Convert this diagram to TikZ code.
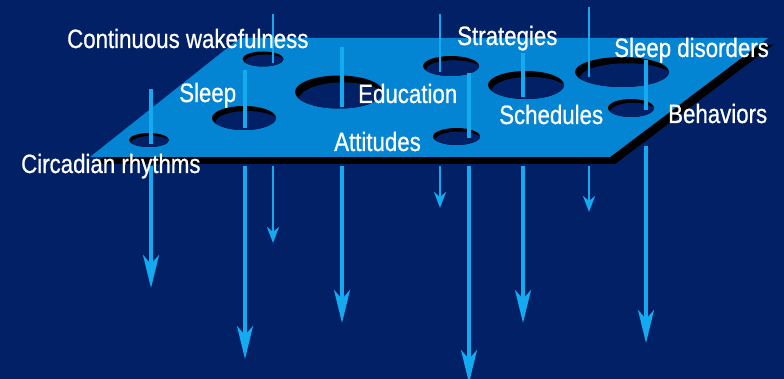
\documentclass[tikz,border=0pt]{standalone}
\usepackage{fontspec}
\setmainfont{Liberation Sans}[FakeStretch=0.84,FakeBold=0.7]
\usetikzlibrary{arrows.meta}

\definecolor{navy}{RGB}{2,32,102}
\definecolor{deck}{RGB}{3,133,212}
\definecolor{ray}{RGB}{20,170,240}

% a hole punched through the deck: dark rim on top, background seen below
\newcommand\punch[5]{% name, cx, cy, rx, ry
  \coordinate (#1) at (#2,#3);
  \fill[black] (#1) ellipse [x radius=#4pt, y radius=#5pt];
  \begin{scope}
    \clip (#1) ellipse [x radius=#4pt, y radius=#5pt];
    \fill[navy] ([shift={(0.1*#4,0.42*#5)}]#1) ellipse [x radius=#4pt, y radius=#5pt];
  \end{scope}}

\begin{document}
\begin{tikzpicture}[x=1pt,y=-1pt,
  lbl/.style={text=white, font=\fontsize{26.5}{30}\selectfont, inner sep=0pt, anchor=base west},
  ray/.style={draw=ray, line width=3.8pt},
  thinray/.style={draw=ray, line width=2.8pt},
  longhead/.style={-{Stealth[length=33pt,width=16pt,inset=9pt]}},
  shorthead/.style={-{Stealth[length=16pt,width=12pt,inset=5pt]}}]

% background
\fill[navy] (0,0) rectangle (784,379);
\useasboundingbox (0,0) rectangle (784,379);

% deck corners
\coordinate (tl) at (240,38);
\coordinate (tr) at (768,38);
\coordinate (br) at (610,157);
\coordinate (bl) at (90,157);

% deck thickness, then the deck
\fill[black] ([shift={(5,7)}]tl) -- ([shift={(5,7)}]tr) -- ([shift={(5,7)}]br) -- ([shift={(5,7)}]bl) -- cycle;
\fill[deck] (tl) -- (tr) -- (br) -- (bl) -- cycle;

% holes
\punch{h-circ}{149}{140}{20}{7}
\punch{h-sleep}{244}{118}{32}{12}
\punch{h-wake}{263}{59}{20.5}{7.5}
\punch{h-edu}{339}{92}{44}{16.5}
\punch{h-strat}{451}{66}{28}{10}
\punch{h-att}{456.5}{136.5}{23.5}{8.5}
\punch{h-sched}{526}{85}{38}{14}
\punch{h-dis}{622}{72}{47}{15}
\punch{h-beh}{631}{108}{23}{9}

% line end points: above the deck, into a hole, out below the deck, tip
\coordinate (circ-a) at (151,89);  \coordinate (circ-b) at (151,144);
\coordinate (circ-c) at (151,166); \coordinate (circ-d) at (151,288);
\coordinate (wake-a) at (273,14);  \coordinate (wake-b) at (273,63);
\coordinate (wake-c) at (273,166); \coordinate (wake-d) at (273,243);
\coordinate (sleep-a) at (245,70); \coordinate (sleep-b) at (245,128);
\coordinate (sleep-c) at (245,166);\coordinate (sleep-d) at (245,359);
\coordinate (edu-a) at (342,47);   \coordinate (edu-b) at (342,107);
\coordinate (edu-c) at (342,166);  \coordinate (edu-d) at (342,323);
\coordinate (strat-a) at (440,14); \coordinate (strat-b) at (440,72);
\coordinate (strat-c) at (440,166);\coordinate (strat-d) at (440,208);
\coordinate (att-a) at (469,73);   \coordinate (att-b) at (469,138);
\coordinate (att-c) at (469,166);  \coordinate (att-d) at (469,383);
\coordinate (sched-a) at (523,53); \coordinate (sched-b) at (523,97);
\coordinate (sched-c) at (523,166);\coordinate (sched-d) at (523,323);
\coordinate (dis-a) at (589,7);    \coordinate (dis-b) at (589,77);
\coordinate (dis-c) at (589,166);  \coordinate (dis-d) at (589,212);
\coordinate (beh-a) at (646,60);   \coordinate (beh-b) at (646,110);
\coordinate (beh-c) at (646,146);  \coordinate (beh-d) at (646,343);

% segments above the deck
\foreach \n in {circ,sleep,edu,att,sched,beh}
  \path[ray] (\n-a) -- (\n-b);
\foreach \n in {wake,strat,dis}
  \path[thinray] (\n-a) -- (\n-b);

% arrows below the deck
\foreach \n in {circ,sleep,edu,att,sched,beh}
  \path[ray,longhead] (\n-c) -- (\n-d);
\foreach \n in {wake,strat,dis}
  \path[thinray,shorthead] (\n-c) -- (\n-d);

% labels
\node[lbl] (l-wake)  at (67,48)   {Continuous wakefulness};
\node[lbl] (l-sleep) at (179,102) {Sleep};
\node[lbl] (l-circ)  at (21,173)  {Circadian rhythms};
\node[lbl] (l-edu)   at (358,103) {Education};
\node[lbl] (l-att)   at (334,151) {Attitudes};
\node[lbl] (l-strat) at (457,45)  {Strategies};
\node[lbl] (l-sched) at (499,124) {Schedules};
\node[lbl] (l-dis)   at (614,57)  {Sleep disorders};
\node[lbl] (l-beh)   at (668,123) {Behaviors};
\end{tikzpicture}
\end{document}
